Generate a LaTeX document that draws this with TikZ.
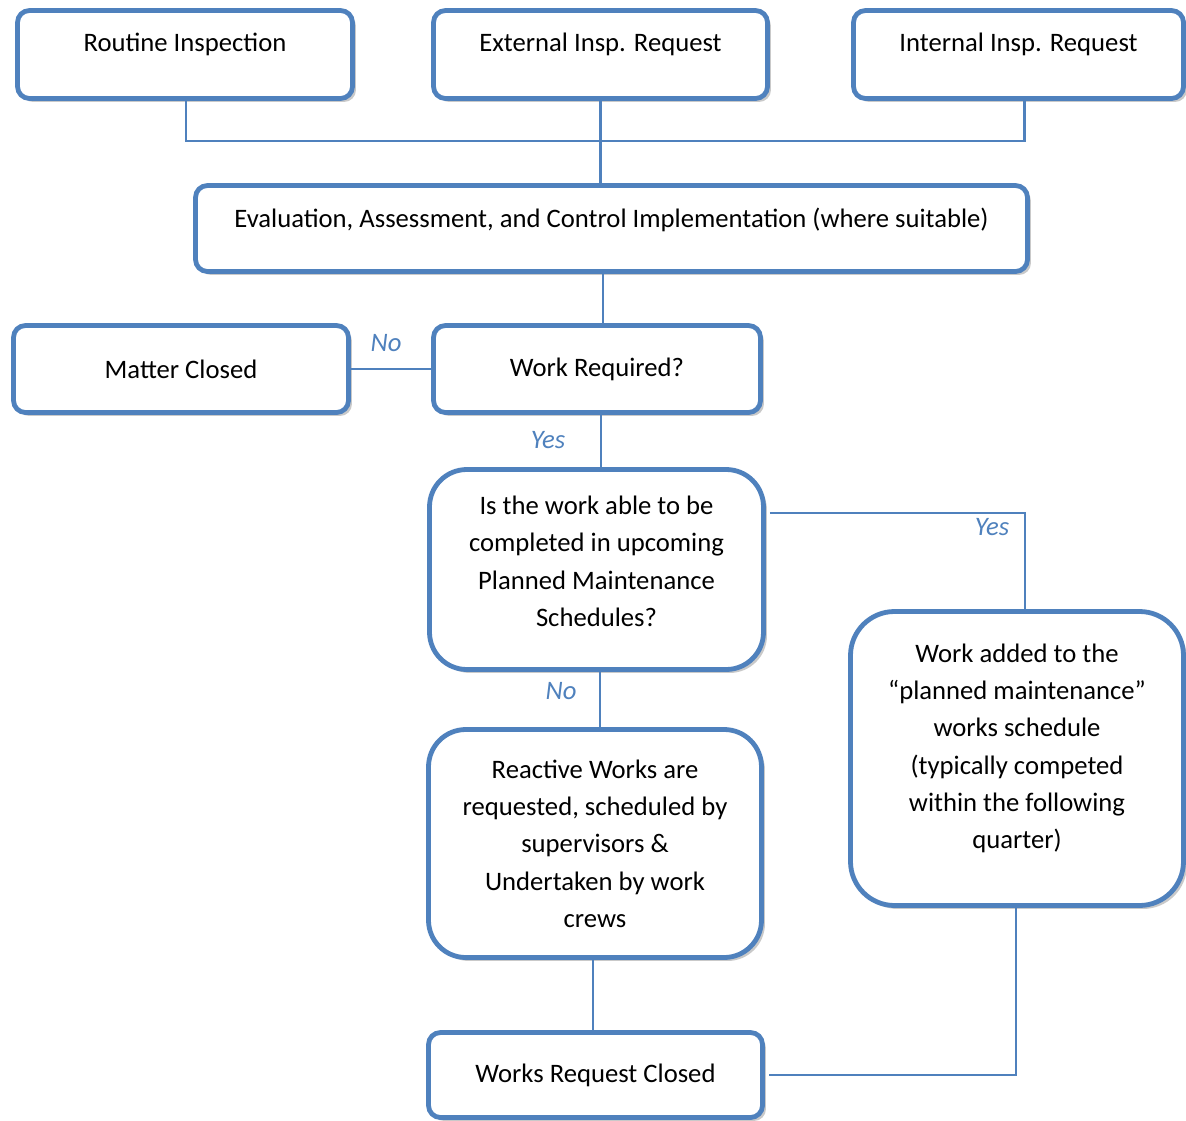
\documentclass[tikz,border=0pt]{standalone}
\usepackage{fontspec}
\setmainfont{Carlito}
\usetikzlibrary{shadows}
\definecolor{bl}{HTML}{4F81BD}
\begin{document}
\begin{tikzpicture}[x=0.75pt,y=-0.75pt,
  box/.style={draw=bl, line width=3.6pt, fill=white, rounded corners=9pt,
    align=center, inner sep=0pt,
    font=\fontsize{20}{28}\selectfont,
    drop shadow={shadow xshift=2.6pt, shadow yshift=-2.6pt, opacity=0.35, fill=black!60}},
  topbox/.style={box, text height=14pt, text depth=18pt},
  conn/.style={draw=bl, line width=1.6pt},
  lbl/.style={text=bl, font=\fontsize{20}{28}\selectfont\itshape, inner sep=0pt}]
\clip (0,0) rectangle (1186,1121);
\fill[white] (0,0) rectangle (1186,1121);

\node[topbox, minimum width=251.25pt, minimum height=66pt] (rout) at (185,54.5) {Routine Inspection};
\node[topbox, minimum width=250.5pt, minimum height=66pt] (ext) at (600.5,54.5) {External Insp. Request};
\node[topbox, minimum width=247.5pt, minimum height=66pt] (intr) at (1018.5,54.5) {Internal Insp. Request};
\node[box, text height=14pt, text depth=15.6pt, minimum width=624pt, minimum height=64.5pt] (eval) at (611.5,228.5) {Evaluation, Assessment, and Control Implementation (where suitable)};
\node[box, minimum width=251.25pt, minimum height=65.25pt] (matter) at (181,369) {Matter Closed};
\node[box, minimum width=245.25pt, minimum height=65.25pt] (wreq) at (597,369) {Work Required?};
\node[box, rounded corners=28pt, minimum width=250.5pt, minimum height=150pt] (iswork) at (596.5,569.5) {Is the work able to be\\completed in upcoming\\Planned Maintenance\\Schedules?\\[-15.5pt]\mbox{}};
\node[box, rounded corners=33pt, minimum width=249.75pt, minimum height=220.5pt] (wadd) at (1017,758.5) {Work added to the\\“planned maintenance”\\works schedule\\(typically competed\\within the following\\quarter)\\[-9.5pt]\mbox{}};
\node[box, rounded corners=28pt, minimum width=249.75pt, minimum height=171pt] (react) at (595,843.5) {Reactive Works are\\requested, scheduled by\\supervisors \&\\Undertaken by work\\crews};
\node[box, minimum width=250.5pt, minimum height=63.75pt] (wrc) at (595.5,1075) {Works Request Closed};

% connectors
\coordinate (jl) at (186,141);
\coordinate (jr) at (1024.5,141);
\draw[conn] (jl |- rout.south) -- (jl) -- (jr) -- (jr |- intr.south);
\draw[conn] (ext.south) -- (ext.south |- eval.north);
\draw[conn] ([xshift=-6.4pt]eval.south) -- ([xshift=-6.4pt]eval.south |- wreq.north);
\draw[conn] (wreq.west) -- (matter.east);
\draw[conn] ([xshift=3pt]wreq.south) -- ([xshift=3pt]wreq.south |- iswork.north);
\coordinate (yc) at (1025,513);
\draw[conn] ([xshift=3pt]iswork.east |- yc) -- (yc) -- (yc |- wadd.north);
\draw[conn] ([xshift=2.5pt]iswork.south) -- ([xshift=2.5pt]iswork.south |- react.north);
\draw[conn] ([xshift=-1.5pt]react.south) -- ([xshift=-1.5pt]react.south |- wrc.north);
\draw[conn] ([xshift=-0.75pt]wadd.south) -- ([xshift=-0.75pt]wadd.south |- wrc.east) -- ([xshift=3pt]wrc.east);

% labels
\node[lbl] (lno1) at (386,343) {No};
\node[lbl] (lyes1) at (548,440) {Yes};
\node[lbl] (lyes2) at (992,527) {Yes};
\node[lbl] (lno2) at (561,691) {No};
\end{tikzpicture}
\end{document}
